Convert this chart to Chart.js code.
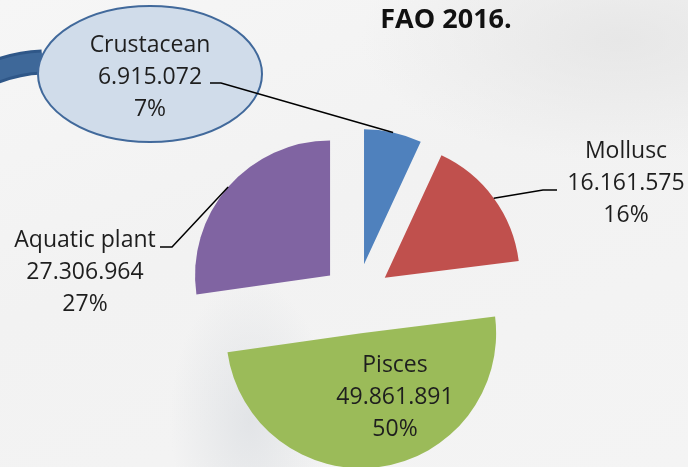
<!DOCTYPE html>
<html lang="en">
<head>
    <meta charset="UTF-8">
    <title>Aquaculture production by group - FAO 2016</title>
    <script src="https://cdn.jsdelivr.net/npm/chart.js"></script>
    <style>
        html, body { margin: 0; padding: 0; }
        body {
            width: 688px; height: 467px; overflow: hidden;
            background:
                radial-gradient(ellipse 80px 140px at 250px 420px, rgba(212,216,221,0.55), rgba(212,216,221,0)),
                radial-gradient(ellipse 260px 120px at 620px 40px, rgba(228,228,228,0.8), rgba(228,228,228,0)),
                linear-gradient(160deg, #f6f6f6 0%, #f2f2f2 45%, #f4f4f4 100%);
        }
        #chart { display: block; }
    </style>
</head>
<body>
    <canvas id="chart" width="688" height="467"></canvas>

    <script>
        const groups = ['Crustacean', 'Mollusc', 'Pisces', 'Aquatic plant'];
        const production = [6915072, 16161575, 49861891, 27306964];
        const sliceColors = ['#4f81bd', '#c0504d', '#9bbb59', '#8064a2'];
        const sourceNote = 'FAO 2016.';

        const pieRadius = 135;
        const explodePx = 35; // every slice is pulled out from the centre by this much

        // where each data label sits (first baseline) and where its leader bends
        const labelSpots = {
            'Crustacean':    { x: 150, y: 52,  elbow: [221, 83],  tail: 210 },
            'Mollusc':       { x: 626, y: 158, elbow: [543, 190], tail: 557 },
            'Pisces':        { x: 395, y: 372 },
            'Aquatic plant': { x: 85,  y: 247, elbow: [172, 247], tail: 160 }
        };

        function fmt(n) {
            return String(n).replace(/\B(?=(\d{3})+(?!\d))/g, '.');
        }

        // exploded pie: move each arc centre out along its middle angle
        const explodePlugin = {
            id: 'explode',
            afterDatasetsUpdate(chart) {
                chart.getDatasetMeta(0).data.forEach(arc => {
                    const mid = (arc.startAngle + arc.endAngle) / 2;
                    arc.x += Math.cos(mid) * explodePx;
                    arc.y += Math.sin(mid) * explodePx;
                });
            }
        };

        // slide decoration: blue band + callout ellipse behind the Crustacean label
        const calloutPlugin = {
            id: 'callout',
            beforeDatasetsDraw(chart) {
                const ctx = chart.ctx;
                ctx.save();
                ctx.lineCap = 'butt';
                ctx.strokeStyle = '#2f5788';
                ctx.lineWidth = 25;
                ctx.beginPath();
                ctx.moveTo(-10, 74);
                ctx.quadraticCurveTo(15, 63, 42, 62);
                ctx.stroke();
                ctx.strokeStyle = '#3e6899';
                ctx.lineWidth = 19;
                ctx.beginPath();
                ctx.moveTo(-10, 74);
                ctx.quadraticCurveTo(15, 63, 42, 62);
                ctx.stroke();

                ctx.beginPath();
                ctx.ellipse(150, 74, 112, 68, 0, 0, Math.PI * 2);
                ctx.fillStyle = '#d0dcea';
                ctx.fill();
                ctx.lineWidth = 2;
                ctx.strokeStyle = '#41699b';
                ctx.stroke();
                ctx.restore();
            }
        };

        const labelPlugin = {
            id: 'sliceLabels',
            afterDatasetsDraw(chart) {
                const ctx = chart.ctx;
                const meta = chart.getDatasetMeta(0);
                const total = production.reduce((a, b) => a + b, 0);
                ctx.save();
                meta.data.forEach((arc, i) => {
                    const name = groups[i];
                    const spot = labelSpots[name];
                    const mid = (arc.startAngle + arc.endAngle) / 2;
                    const ex = arc.x + Math.cos(mid) * arc.outerRadius;
                    const ey = arc.y + Math.sin(mid) * arc.outerRadius;

                    if (spot.elbow) {
                        ctx.strokeStyle = '#000';
                        ctx.lineWidth = 1.5;
                        ctx.beginPath();
                        ctx.moveTo(ex, ey);
                        ctx.lineTo(spot.elbow[0], spot.elbow[1]);
                        ctx.lineTo(spot.tail, spot.elbow[1]);
                        ctx.stroke();
                    }

                    const lines = [name, fmt(production[i]), Math.round(production[i] / total * 100) + '%'];
                    ctx.fillStyle = '#1e1e1e';
                    ctx.font = '23px "Open Sans", sans-serif';
                    ctx.textAlign = 'center';
                    ctx.textBaseline = 'alphabetic';
                    lines.forEach((t, k) => ctx.fillText(t, spot.x, spot.y + k * 32));
                });

                ctx.font = 'bold 27px "Open Sans", sans-serif';
                ctx.fillStyle = '#111';
                ctx.textAlign = 'center';
                ctx.fillText(sourceNote, 446, 28);
                ctx.restore();
            }
        };

        new Chart(document.getElementById('chart'), {
            type: 'pie',
            data: {
                labels: groups,
                datasets: [{
                    data: production,
                    backgroundColor: sliceColors,
                    borderWidth: 0,
                    offset: 0,
                    hoverOffset: 0,
                    clip: false
                }]
            },
            options: {
                responsive: false,
                animation: false,
                radius: pieRadius,
                layout: { padding: { left: 25, right: 0, top: 130, bottom: 0 } },
                events: [],
                plugins: {
                    legend: { display: false },
                    tooltip: { enabled: false },
                    title: { display: false }
                }
            },
            plugins: [explodePlugin, calloutPlugin, labelPlugin]
        });
    </script>
</body>
</html>
